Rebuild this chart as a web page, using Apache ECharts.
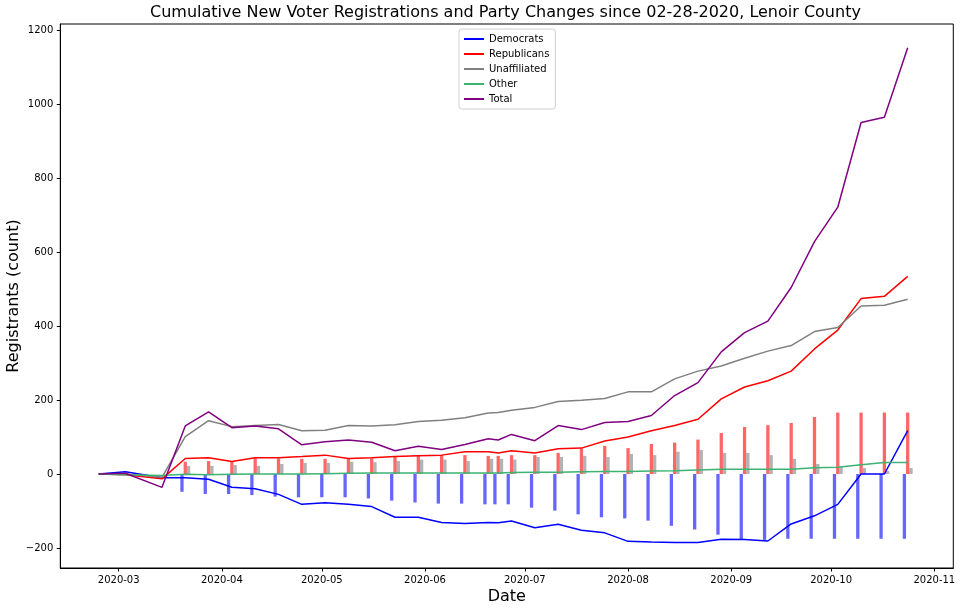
<!DOCTYPE html>
<html><head><meta charset="utf-8">
<script src="https://cdn.jsdelivr.net/npm/echarts@6/dist/echarts.min.js"></script>
<style>html,body{margin:0;padding:0;background:#fff}#c{width:962px;height:611px}</style>
</head><body><div id="c"></div>
<script>
// ---- data ----
const dates = ['2020-02-24','2020-03-03','2020-03-14','2020-03-21','2020-03-28','2020-04-04','2020-04-11','2020-04-18','2020-04-25','2020-05-02','2020-05-09','2020-05-16','2020-05-23','2020-05-30','2020-06-06','2020-06-13','2020-06-20','2020-06-23','2020-06-27','2020-07-04','2020-07-11','2020-07-18','2020-07-25','2020-08-01','2020-08-08','2020-08-15','2020-08-22','2020-08-29','2020-09-05','2020-09-12','2020-09-19','2020-09-26','2020-10-03','2020-10-10','2020-10-17','2020-10-24'];
const democrats = [0,6,-10,-10,-14,-36,-40,-55,-82,-78,-82,-88,-117,-117,-131,-134,-131,-132,-127,-145,-136,-152,-159,-182,-184,-185,-185,-176,-177,-181,-135,-113,-82,0,0,117];
const republicans = [0,-2,-13,42,44,34,44,44,47,51,42,44,47,49,51,60,60,57,63,57,68,70,89,100,117,131,148,203,235,252,278,338,389,474,480,534];
const unaffiliated = [0,0,-9,101,144,128,131,134,117,118,131,130,133,142,145,152,165,166,172,180,196,199,204,222,222,257,278,292,313,332,347,385,396,454,456,472];
const other = [0,-2,-4,-1,-2,-1,0,0,0,1,2,3,3,3,3,3,3,3,4,5,5,6,7,7,8,9,11,13,13,13,13,17,18,25,31,31];
const total = [0,2,-36,130,168,125,130,122,79,87,92,86,63,75,66,80,95,92,107,90,131,120,139,142,158,212,247,330,382,413,504,628,721,950,964,1152];

const barDates = dates.slice(3);
const demBars = [-48,-54,-54,-57,-61,-63,-63,-63,-66,-72,-77,-80,-80,-82,-82,-82,-91,-99,-109,-117,-120,-126,-140,-150,-164,-176,-178,-175,-175,-175,-175,-175,-175];
const repBars = [33,35,33,44,42,41,41,42,42,47,49,51,51,49,49,51,51,57,69,76,70,81,85,93,111,127,132,138,154,166,166,166,166];
const unaBars = [22,22,24,22,27,30,30,33,32,35,39,39,35,41,41,39,46,46,49,46,54,51,60,65,57,57,51,41,27,19,16,8,16];

const yTicks = [-200,0,200,400,600,800,1000,1200];

// ---- helpers ----
const DAY = 86400000;
const ts = s => Date.parse(s + 'T00:00:00Z');
const pair = (ds, vs) => ds.map((d, i) => [ts(d), vs[i]]);
const xMin = ts('2020-03-01') - 17.54 * DAY;
const xMax = ts('2020-03-01') + 250.7 * DAY;
const FONT = 'DejaVu Sans';
const BAR_W = 3.3;

function lineSeries(name, vals, color) {
  return { name, type: 'line', data: pair(dates, vals), showSymbol: false, symbol: 'none',
    lineStyle: { color, width: 1.5 }, itemStyle: { color }, z: 3, animation: false };
}
// bars drawn through the axes' scales (api.coord), grouped side by side around each date
function barSeries(name, vals, color, slot) {
  return { name, type: 'custom', data: pair(barDates, vals), z: 2, animation: false,
    encode: { x: 0, y: 1 },
    renderItem: (params, api) => {
      const base = api.coord([api.value(0), 0]);
      const top = api.coord([api.value(0), api.value(1)]);
      const x = base[0] + slot * BAR_W - BAR_W / 2;
      const y = Math.min(base[1], top[1]);
      return { type: 'rect', shape: { x, y, width: BAR_W, height: Math.abs(top[1] - base[1]) },
        style: { fill: color } };
    } };
}

const chart = echarts.init(document.getElementById('c'), null, { renderer: 'canvas' });
chart.setOption({
  useUTC: true,
  animation: false,
  backgroundColor: '#fff',
  title: { text: 'Cumulative New Voter Registrations and Party Changes since 02-28-2020, Lenoir County',
    left: 150, top: 5, padding: 0,
    textStyle: { fontFamily: FONT, fontSize: 16, fontWeight: 'normal', color: '#000' } },
  legend: {
    data: ['Democrats','Republicans','Unaffiliated','Other','Total'],
    orient: 'vertical', left: 459, top: 29,
    icon: 'rect', itemWidth: 20, itemHeight: 2, itemGap: 3,
    backgroundColor: '#fff', borderColor: '#d0d0d0', borderWidth: 1, borderRadius: 3,
    padding: [4, 6, 4, 5],
    textStyle: { fontFamily: FONT, fontSize: 10, color: '#000', lineHeight: 12 }
  },
  grid: { left: 60.3, right: 8.7, top: 24, bottom: 43, show: true, borderColor: '#000', borderWidth: 1,
    containLabel: false, outerBoundsMode: 'none' },
  xAxis: {
    type: 'time', min: xMin, max: xMax,
    minInterval: 28 * DAY, maxInterval: 31 * DAY,
    name: 'Date', nameLocation: 'middle', nameGap: 21, nameMoveOverlap: false,
    nameTextStyle: { fontFamily: FONT, fontSize: 16, color: '#000' },
    axisLine: { show: true, onZero: false, lineStyle: { color: '#000', width: 1 } },
    axisTick: { show: true, length: 3.5, lineStyle: { color: '#000' } },
    splitLine: { show: false },
    axisLabel: { margin: 7, fontFamily: FONT, fontSize: 10, color: '#000', hideOverlap: false,
      formatter: v => { const d = new Date(v); return d.getUTCFullYear() + '-' + String(d.getUTCMonth() + 1).padStart(2, '0'); } }
  },
  yAxis: {
    type: 'value', min: -254, max: 1216, splitNumber: 7,
    name: 'Registrants (count)', nameLocation: 'middle', nameGap: 38, nameRotate: 90, nameMoveOverlap: false,
    nameTextStyle: { fontFamily: FONT, fontSize: 16, color: '#000' },
    axisLine: { show: true, onZero: false, lineStyle: { color: '#000', width: 1 } },
    axisTick: { show: true, length: 3.5, lineStyle: { color: '#000' }, customValues: yTicks },
    splitLine: { show: false },
    axisLabel: { margin: 7, fontFamily: FONT, fontSize: 10, color: '#000', customValues: yTicks,
      formatter: v => (v < 0 ? '\u2212' + (-v) : String(v)) }
  },
  series: [
    barSeries('Dem change', demBars, 'rgba(0,0,255,0.6)', -1),
    barSeries('Rep change', repBars, 'rgba(255,0,0,0.6)', 0),
    barSeries('Unaf change', unaBars, 'rgba(128,128,128,0.6)', 1),
    lineSeries('Democrats', democrats, '#0000ff'),
    lineSeries('Republicans', republicans, '#ff0000'),
    lineSeries('Unaffiliated', unaffiliated, '#808080'),
    lineSeries('Other', other, '#3cb371'),
    lineSeries('Total', total, '#800080')
  ]
});
</script>
</body></html>
